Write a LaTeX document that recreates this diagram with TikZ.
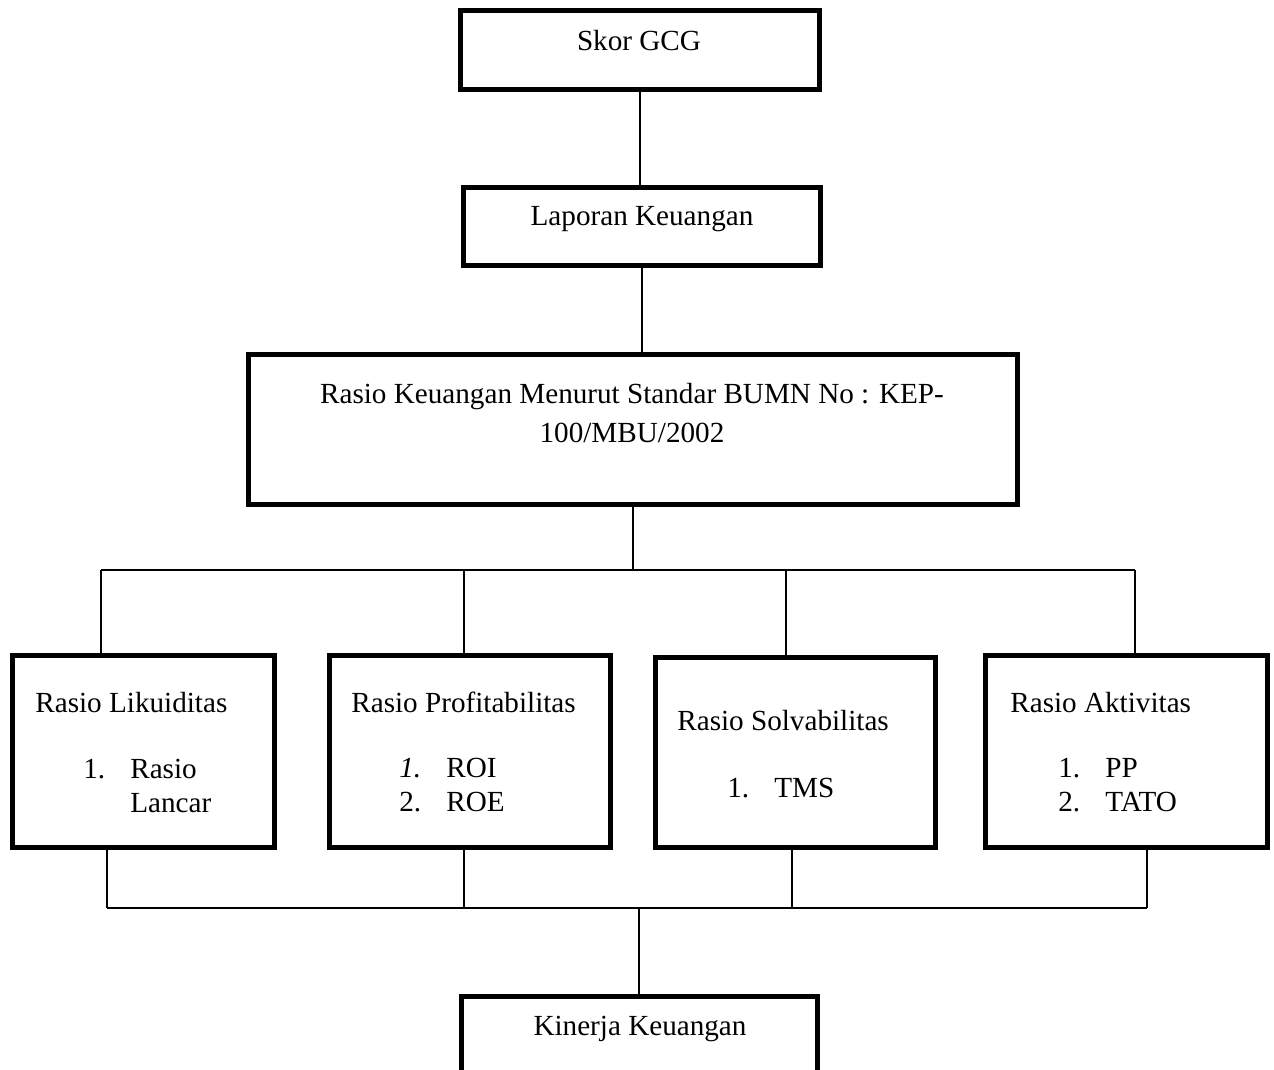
\documentclass[tikz,border=0pt]{standalone}
\usepackage{fontspec}
\setmainfont{Liberation Serif}
\usetikzlibrary{positioning}

\tikzset{
  box/.style={draw, rectangle, line width=2.8pt, inner sep=0pt},
  link/.style={line width=1.1pt},
  txt/.style={font=\fontsize{16.6}{19}\selectfont, inner sep=0pt},
}
\newcommand{\itm}[2]{\makebox[0.94cm][l]{#1}#2}

\begin{document}
\begin{tikzpicture}[x=0.02cm,y=-0.02cm]
        \useasboundingbox (0,0) rectangle (1274,1070);
        \clip (0,0) rectangle (1274,1070);

        % boxes
        \node[box, minimum width=7.18cm, minimum height=1.58cm] at (640,50) (skor) {};
        \node[box, minimum width=7.14cm, minimum height=1.56cm] at (642,226.5) (lap) {};
        \node[box, minimum width=15.38cm, minimum height=3.0cm] at (633,429.5) (rasio) {};
        \node[box, minimum width=5.24cm, minimum height=3.84cm] at (143.5,751.5) (lik) {};
        \node[box, minimum width=5.62cm, minimum height=3.84cm] at (470,751.5) (prof) {};
        \node[box, minimum width=5.6cm, minimum height=3.8cm] at (795.5,752.5) (solv) {};
        \node[box, minimum width=5.64cm, minimum height=3.84cm] at (1126.5,751.5) (akt) {};
        \node[box, minimum width=7.12cm, minimum height=1.58cm] at (639.5,1036) (kin) {};

        % texts (base of a multi-line node = last line)
        \node[txt, anchor=base] at (639,51) (skortxt) {Skor GCG};
        \node[txt, anchor=base] at (642,226) (laptxt) {Laporan Keuangan};
        \node[txt, anchor=base, align=center, font=\fontsize{16.6}{22.2}\selectfont] at (632,443) (rasiotxt)
          {Rasio Keuangan Menurut Standar BUMN No : KEP-\\100/MBU/2002};
        \node[txt, anchor=base] at (640,1035) (kintxt) {Kinerja Keuangan};

        \node[txt, anchor=base west] at (35,712) (likttl) {Rasio Likuiditas};
        \node[txt, anchor=base west, align=left] at (83,812) (liklst) {\itm{1.}{Rasio}\\\itm{}{Lancar}};
        \node[txt, anchor=base west] at (351,712) (profttl) {Rasio Profitabilitas};
        \node[txt, anchor=base west, align=left] at (399,811) (proflst) {\itm{\textit{1.}}{ROI}\\\itm{2.}{ROE}};
        \node[txt, anchor=base west] at (677,730) (solvttl) {Rasio Solvabilitas};
        \node[txt, anchor=base west] at (727,797) (solvlst) {\itm{1.}{TMS}};
        \node[txt, anchor=base west] at (1010,712) (aktttl) {Rasio Aktivitas};
        \node[txt, anchor=base west, align=left] at (1058,811) (aktlst) {\itm{1.}{PP}\\\itm{2.}{TATO}};

        % top part
        \draw[link] (skor.south) -- (skor.south |- lap.north);
        \draw[link] (lap.south) -- (lap.south |- rasio.north);

        \coordinate (tmid) at (634,570);
        \coordinate (t1) at (101,570);
        \coordinate (t2) at (464,570);
        \coordinate (t3) at (786,570);
        \coordinate (t4) at (1135,570);
        \draw[link] (rasio.south) -- (rasio.south |- tmid);
        \draw[link] (t1) -- (t4);
        \draw[link] (t1) -- (t1 |- lik.north);
        \draw[link] (t2) -- (t2 |- prof.north);
        \draw[link] (t3) -- (t3 |- solv.north);
        \draw[link] (t4) -- (t4 |- akt.north);

        % bottom part
        \coordinate (bmid) at (639,908);
        \coordinate (b1) at (107,908);
        \coordinate (b2) at (464,908);
        \coordinate (b3) at (792,908);
        \coordinate (b4) at (1147,908);
        \draw[link] (b1 |- lik.south) -- (b1);
        \draw[link] (b2 |- prof.south) -- (b2);
        \draw[link] (b3 |- solv.south) -- (b3);
        \draw[link] (b4 |- akt.south) -- (b4);
        \draw[link] (b1) -- (b4);
        \draw[link] (bmid) -- (bmid |- kin.north);
      \end{tikzpicture}
\end{document}
